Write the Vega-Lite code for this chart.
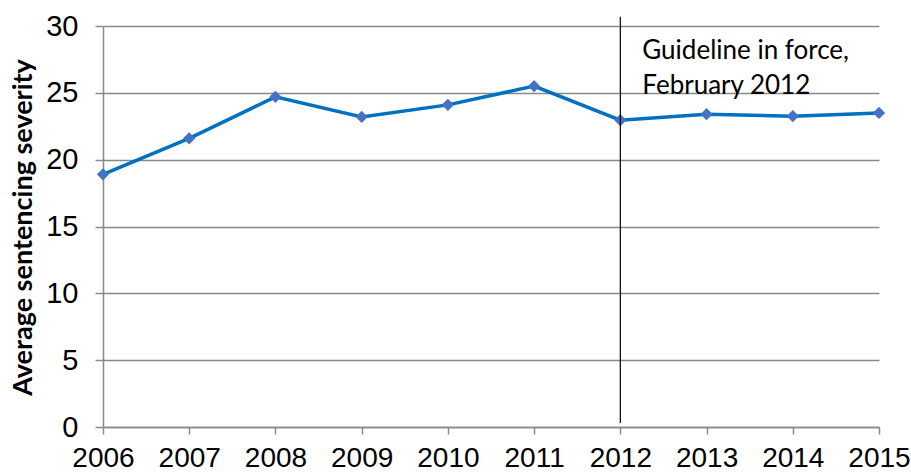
{
  "$schema": "https://vega.github.io/schema/vega-lite/v6.json",
  "width": 776,
  "height": 401,
  "autosize": "none",
  "padding": {"left": 103, "top": 26, "right": 32, "bottom": 46},
  "background": "white",
  "config": {"view": {"stroke": null}},
  "datasets": {
    "series": [
      {"year": 2006, "severity": 18.9},
      {"year": 2007, "severity": 21.6},
      {"year": 2008, "severity": 24.7},
      {"year": 2009, "severity": 23.2},
      {"year": 2010, "severity": 24.1},
      {"year": 2011, "severity": 25.5},
      {"year": 2012, "severity": 22.95},
      {"year": 2013, "severity": 23.4},
      {"year": 2014, "severity": 23.25},
      {"year": 2015, "severity": 23.5}
    ],
    "guide": [
      {"year": 2012, "low": 0.3, "high": 30.7, "labelY": 29.1, "label": "Guideline in force,\nFebruary 2012"}
    ]
  },
  "layer": [
    {
      "data": {"name": "series"},
      "mark": {"type": "line", "color": "#0070C0", "strokeWidth": 3.5},
      "encoding": {
        "x": {
          "field": "year", "type": "quantitative",
          "scale": {"domain": [2006, 2015], "nice": false, "zero": false},
          "axis": {
            "values": [2006, 2007, 2008, 2009, 2010, 2011, 2012, 2013, 2014, 2015],
            "format": "d", "title": null, "grid": false,
            "domainColor": "#898989", "domainWidth": 1.5,
            "tickColor": "#898989", "tickSize": 7, "tickWidth": 1.5,
            "labelFont": "Liberation Sans", "labelFontSize": 28, "labelColor": "#000000",
            "labelPadding": 10, "labelFlush": false, "labelOverlap": false
          }
        },
        "y": {
          "field": "severity", "type": "quantitative",
          "scale": {"domain": [0, 30], "nice": false},
          "axis": {
            "values": [0, 5, 10, 15, 20, 25, 30],
            "title": "Average sentencing severity",
            "titleFont": "Lato", "titleFontWeight": "bold", "titleFontSize": 27, "titleColor": "#000000",
            "titleAngle": -90, "titleX": -80, "titleY": 201, "titleAlign": "center", "titleBaseline": "middle",
            "grid": true, "gridColor": "#898989", "gridWidth": 1.5,
            "domainColor": "#898989", "domainWidth": 1.5,
            "tickColor": "#898989", "tickSize": 8, "tickWidth": 1.5,
            "labelFont": "Liberation Sans", "labelFontSize": 29, "labelColor": "#000000",
            "labelPadding": 17
          }
        }
      }
    },
    {
      "data": {"name": "series"},
      "mark": {"type": "point", "shape": "diamond", "filled": true, "color": "#4472C4", "size": 150, "opacity": 1},
      "encoding": {
        "x": {"field": "year", "type": "quantitative"},
        "y": {"field": "severity", "type": "quantitative"}
      }
    },
    {
      "data": {"name": "guide"},
      "mark": {"type": "rule", "color": "#000000", "strokeWidth": 1.2, "clip": false},
      "encoding": {
        "x": {"field": "year", "type": "quantitative"},
        "y": {"field": "low", "type": "quantitative"},
        "y2": {"field": "high"}
      }
    },
    {
      "data": {"name": "guide"},
      "mark": {"type": "text", "font": "Lato", "fontSize": 26, "color": "#000000", "align": "left", "baseline": "top", "dx": 22, "lineBreak": "\n", "lineHeight": 35},
      "encoding": {
        "x": {"field": "year", "type": "quantitative"},
        "y": {"field": "labelY", "type": "quantitative"},
        "text": {"field": "label"}
      }
    }
  ]
}
